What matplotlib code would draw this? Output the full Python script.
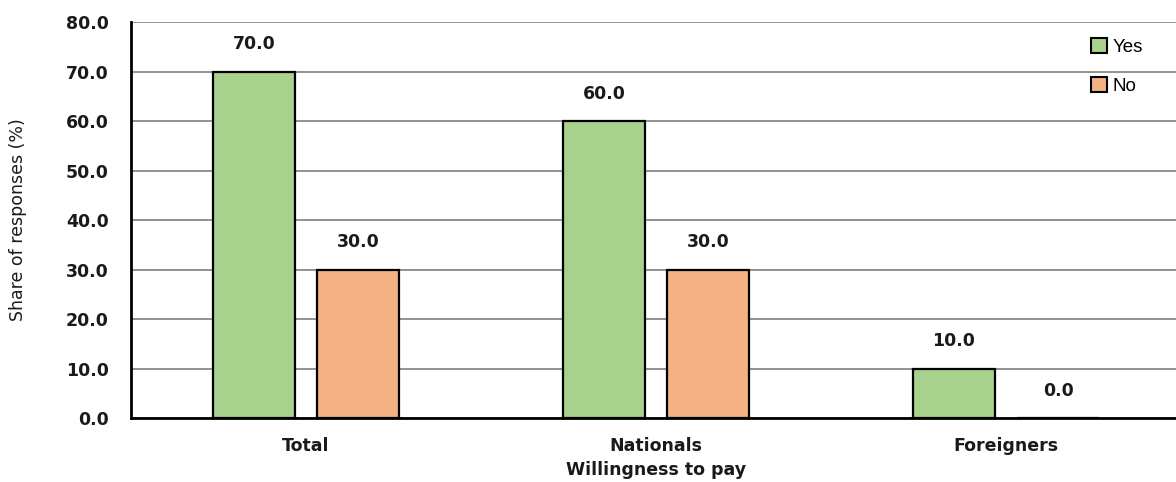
import matplotlib
matplotlib.use("Agg")
import matplotlib.pyplot as plt
import numpy as np
from matplotlib.patches import Patch

categories = ["Total", "Nationals", "Foreigners"]
yes_values = [70.0, 60.0, 10.0]
no_values = [30.0, 30.0, 0.0]
y_ticks = [0, 10, 20, 30, 40, 50, 60, 70, 80]

green = "#A9D18E"
orange = "#F4B183"

fig = plt.figure(figsize=(11.76, 4.82), dpi=100)
ax = fig.add_axes([131 / 1176, 1 - 418 / 482, 1050 / 1176, 396 / 482])

x = np.arange(len(categories))
w = 0.234
off = 0.149

bars_yes = ax.bar(x - off, yes_values, w, color=green, edgecolor="black", linewidth=1.6, zorder=3)
bars_no = ax.bar(x + off, no_values, w, color=orange, edgecolor="black", linewidth=1.6, zorder=3)

for bars, vals in ((bars_yes, yes_values), (bars_no, no_values)):
    for b, v in zip(bars, vals):
        ax.annotate(f"{v:.1f}", (b.get_x() + b.get_width() / 2, v),
                    xytext=(0, 13), textcoords="offset points",
                    ha="center", va="bottom", fontsize=12.5, fontweight="bold",
                    color="#1a1a1a")

ax.set_xlim(-0.5, 2.5)
ax.set_ylim(0, 80)
ax.set_yticks(y_ticks)
ax.set_yticklabels([f"{t:.1f}" for t in y_ticks], fontsize=12.5, fontweight="bold", color="#1a1a1a")
ax.set_xticks(x)
ax.set_xticklabels(categories, fontsize=12.5, fontweight="bold", color="#1a1a1a")
ax.tick_params(axis="both", length=0)
ax.tick_params(axis="y", pad=16)
ax.tick_params(axis="x", pad=14)

ax.yaxis.grid(True, color="#7f7f7f", linewidth=1.2, zorder=0)
ax.set_axisbelow(True)
for s in ("top", "right"):
    ax.spines[s].set_visible(False)
ax.spines["left"].set_linewidth(2)
ax.spines["bottom"].set_linewidth(2)

ax.set_ylabel("Share of responses (%)", fontsize=12.5, color="#1a1a1a", labelpad=28)
ax.set_xlabel("Willingness to pay", fontsize=12.5, fontweight="bold", color="#1a1a1a", labelpad=4)

handles = [Patch(facecolor=green, edgecolor="black", linewidth=1.5, label="Yes"),
           Patch(facecolor=orange, edgecolor="black", linewidth=1.5, label="No")]
leg = ax.legend(handles=handles, loc="upper left", bbox_to_anchor=(1082 / 1176, 1 - 29 / 482),
                bbox_transform=fig.transFigure, frameon=False,
                prop={"family": "Liberation Sans", "size": 13.5},
                handlelength=0.85, handleheight=0.85, handletextpad=0.3,
                labelspacing=1.1, borderpad=0)

fig.savefig("out.png", dpi=100)
